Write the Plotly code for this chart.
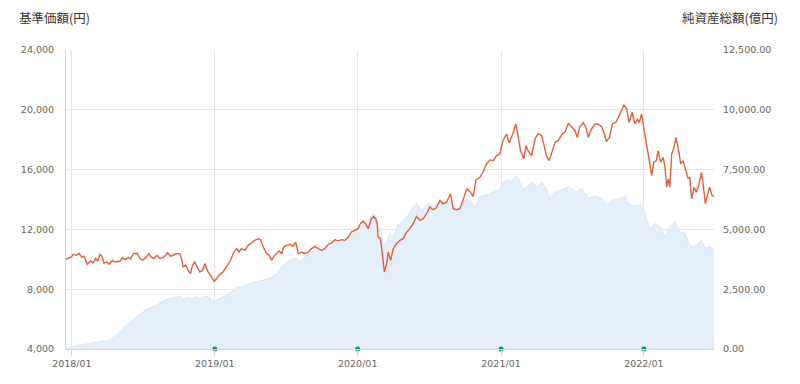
import plotly.graph_objects as go

# 基準価額 (円)
price_dates = [
 "2017-12-17","2017-12-31","2018-01-04","2018-01-13","2018-01-19","2018-01-26","2018-02-01","2018-02-09","2018-02-18","2018-02-24",
 "2018-03-03","2018-03-08","2018-03-14","2018-03-19","2018-03-24","2018-03-31","2018-04-06","2018-04-15","2018-04-21","2018-05-04",
 "2018-05-10","2018-05-17","2018-05-25","2018-05-31","2018-06-07","2018-06-17","2018-06-24","2018-07-01","2018-07-09","2018-07-17",
 "2018-07-24","2018-07-30","2018-08-07","2018-08-14","2018-08-21","2018-08-29","2018-09-02","2018-09-10","2018-09-17","2018-09-25",
 "2018-10-04","2018-10-08","2018-10-12","2018-10-19","2018-10-25","2018-10-31","2018-11-05","2018-11-11","2018-11-17","2018-11-24",
 "2018-12-01","2018-12-07","2018-12-11","2018-12-15","2018-12-24","2018-12-30","2019-01-06","2019-01-12","2019-01-22","2019-01-31",
 "2019-02-09","2019-02-19","2019-02-26","2019-03-04","2019-03-10","2019-03-19","2019-03-27","2019-04-05","2019-04-13","2019-04-22",
 "2019-04-28","2019-05-05","2019-05-13","2019-05-20","2019-05-26","2019-06-01","2019-06-08","2019-06-14","2019-06-21","2019-06-26",
 "2019-07-03","2019-07-12","2019-07-20","2019-07-27","2019-08-02","2019-08-11","2019-08-19","2019-08-28","2019-09-05","2019-09-14",
 "2019-09-22","2019-10-01","2019-10-09","2019-10-18","2019-10-26","2019-11-04","2019-11-12","2019-11-21","2019-11-29","2019-12-08",
 "2019-12-16","2019-12-25","2020-01-02","2020-01-08","2020-01-15","2020-01-22","2020-01-28","2020-02-05","2020-02-11","2020-02-16",
 "2020-02-20","2020-02-22","2020-02-28","2020-03-04","2020-03-09","2020-03-15","2020-03-19","2020-03-25","2020-04-01","2020-04-09",
 "2020-04-18","2020-04-26","2020-05-05","2020-05-13","2020-05-22","2020-05-30","2020-06-08","2020-06-16","2020-06-25","2020-07-03",
 "2020-07-12","2020-07-20","2020-07-29","2020-08-06","2020-08-15","2020-08-25","2020-09-01","2020-09-10","2020-09-18","2020-09-26",
 "2020-10-05","2020-10-13","2020-10-22","2020-10-29","2020-11-08","2020-11-16","2020-11-25","2020-12-04","2020-12-12","2020-12-21",
 "2020-12-29","2021-01-06","2021-01-15","2021-01-22","2021-01-31","2021-02-08","2021-02-14","2021-02-20","2021-02-28","2021-03-06",
 "2021-03-11","2021-03-20","2021-03-29","2021-04-06","2021-04-15","2021-04-20","2021-04-27","2021-05-04","2021-05-10","2021-05-19",
 "2021-05-27","2021-06-05","2021-06-13","2021-06-22","2021-06-30","2021-07-09","2021-07-15","2021-07-21","2021-07-30","2021-08-06",
 "2021-08-12","2021-08-20","2021-08-29","2021-09-06","2021-09-15","2021-09-21","2021-09-27","2021-10-05","2021-10-13","2021-10-21",
 "2021-10-30","2021-11-05","2021-11-11","2021-11-18","2021-11-24","2021-12-02","2021-12-09","2021-12-15","2021-12-20","2021-12-26",
 "2022-01-01","2022-01-06","2022-01-12","2022-01-16","2022-01-21","2022-01-26","2022-02-02","2022-02-06","2022-02-13","2022-02-19",
 "2022-02-24","2022-02-28","2022-03-04","2022-03-08","2022-03-13","2022-03-19","2022-03-24","2022-03-30","2022-04-05","2022-04-11",
 "2022-04-18","2022-04-24","2022-04-28","2022-05-03","2022-05-09","2022-05-15","2022-05-21","2022-05-28","2022-06-01","2022-06-07",
 "2022-06-13","2022-06-18","2022-06-24","2022-06-29",
]
price_values = [
 10000,10153,10333,10267,10400,10153,10200,9667,9887,9753,
 10067,9887,10333,10200,9753,9820,9667,9933,9820,9867,
 10113,9980,10113,10020,10380,10400,10047,9933,10113,10380,
 10113,10047,10267,10047,10113,10267,10447,10200,10287,10380,
 10380,10047,9487,9600,9267,9047,9600,9820,9487,9153,
 9267,9713,9380,9153,8820,8533,8713,8933,9153,9533,
 9867,10487,10713,10487,10713,10600,10933,11087,11267,11380,
 11313,10820,10380,10267,9933,10200,10380,10553,10380,10820,
 10933,11000,10867,11153,10380,10487,10380,10487,10713,10867,
 10713,10600,10713,11000,11087,11313,11220,11313,11267,11487,
 11820,11933,12047,12380,12553,12333,12047,12713,12867,12713,
 12400,11487,11380,10380,9153,9713,10487,9933,10713,11047,
 11267,11380,11820,12047,12380,12867,12600,12713,13047,13487,
 13313,13447,13933,13713,13820,14380,13380,13313,13380,13933,
 14713,14553,14200,15313,15487,15820,16380,16647,16600,16933,
 17047,17933,18380,17800,18380,19047,18153,17267,16713,17600,
 17267,16933,18047,18420,18267,17713,16933,16600,17047,17820,
 17933,18333,18487,19087,18867,18600,18153,18820,19153,18820,
 18153,18713,19047,19047,18867,18487,17867,18153,19087,19153,
 19600,19933,20333,20047,19153,19820,19047,19380,19153,19713,
 18820,17933,17153,16487,15600,16487,16600,17267,16487,16820,
 16153,14820,15380,14820,17047,17487,18153,17380,16380,16600,
 15933,15380,15487,14047,14820,14487,14933,15820,15047,13713,
 14380,14820,14267,14200,
]

# 純資産総額 (億円)
asset_dates = [
 "2017-12-17","2018-01-21","2018-02-24","2018-04-08","2018-04-21","2018-05-21","2018-06-15","2018-07-11","2018-08-05","2018-08-31",
 "2018-09-21","2018-10-04","2018-10-12","2018-10-25","2018-11-03","2018-11-15","2018-11-24","2018-12-07","2018-12-18","2018-12-28",
 "2019-01-10","2019-01-27","2019-02-09","2019-02-26","2019-03-15","2019-04-01","2019-04-26","2019-05-22","2019-06-08","2019-06-25",
 "2019-07-12","2019-07-29","2019-08-06","2019-08-19","2019-09-01","2019-09-18","2019-10-05","2019-10-22","2019-11-08","2019-11-25",
 "2019-12-12","2019-12-29","2020-01-15","2020-01-28","2020-02-10","2020-02-18","2020-02-22","2020-03-02","2020-03-06","2020-03-15",
 "2020-03-23","2020-04-01","2020-04-13","2020-04-26","2020-05-09","2020-05-22","2020-05-30","2020-06-12","2020-06-29","2020-07-12",
 "2020-07-29","2020-08-15","2020-08-28","2020-09-05","2020-09-18","2020-10-01","2020-10-13","2020-10-26","2020-11-08","2020-11-25",
 "2020-12-12","2020-12-29","2021-01-06","2021-01-15","2021-01-28","2021-02-10","2021-02-18","2021-02-27","2021-03-11","2021-03-24",
 "2021-04-02","2021-04-15","2021-04-23","2021-05-06","2021-05-19","2021-06-05","2021-06-22","2021-06-30","2021-07-13","2021-07-26",
 "2021-08-12","2021-08-29","2021-09-15","2021-09-27","2021-10-14","2021-11-01","2021-11-13","2021-11-22","2021-12-05","2021-12-17",
 "2021-12-26","2022-01-04","2022-01-16","2022-01-29","2022-02-11","2022-02-24","2022-03-08","2022-03-21","2022-04-03","2022-04-16",
 "2022-04-28","2022-05-11","2022-05-28","2022-06-06","2022-06-18","2022-06-29",
]
asset_values = [
 30,167,263,376,514,1003,1350,1660,1839,2078,
 2161,2216,2078,2161,2078,2186,2120,2216,2161,1977,
 2078,2216,2362,2579,2605,2747,2843,2956,3135,3512,
 3721,3792,3650,3859,4001,4139,4068,4277,4419,4486,
 4640,4975,5184,5393,5644,5531,5184,4975,4277,4486,
 4837,4695,5184,5393,5602,5949,6091,5811,6091,5949,
 6229,6091,6229,5740,5811,6229,6229,5949,6367,6438,
 6576,6689,6940,7065,7023,7253,6994,6647,6856,6994,
 6785,6952,6785,6300,6576,6647,6785,6718,6576,6718,
 6300,6396,6300,6020,6229,6300,6396,6091,5978,6020,
 6020,5673,4975,5255,5113,4695,5113,5322,4904,4837,
 4348,4277,4557,4210,4277,4139,
]

# 決算日マーカー
event_dates = ["2019-01-01", "2020-01-01", "2021-01-01", "2022-01-01"]
event_values = [4000, 4000, 4000, 4000]

price_ticks = [4000, 8000, 12000, 16000, 20000, 24000]
asset_ticks = [0, 2500, 5000, 7500, 10000, 12500]

tick_font = dict(family="DejaVu Sans", size=9.5, color="#666666")
axis_col = "#ccd6eb"
grid_col = "#e6e6e6"

fig = go.Figure()
fig.add_trace(go.Scatter(
    x=asset_dates, y=asset_values, yaxis="y", mode="lines",
    line=dict(color="rgba(200,222,243,0.6)", width=1),
    fill="tozeroy", fillcolor="#e5eff9", name="純資産総額", hoverinfo="x+y",
))
fig.add_trace(go.Scatter(
    x=price_dates, y=price_values, yaxis="y2", mode="lines",
    line=dict(color="#e0603a", width=1.4), name="基準価額",
))
fig.add_trace(go.Scatter(
    x=event_dates, y=event_values, yaxis="y2", mode="markers",
    marker=dict(color="#168c86", size=5, line=dict(width=0)), cliponaxis=False, name="決算",
))

# the page body adds an 8px offset, so margins are reduced on the left/top
fig.update_layout(
    width=800, height=384,
    margin=dict(l=58, r=94, t=42, b=43),
    paper_bgcolor="white", plot_bgcolor="white",
    showlegend=False,
    xaxis=dict(
        type="date", range=["2017-12-17", "2022-06-29"],
        tick0="2018-01-01", dtick="M12", tickformat="%Y/%m",
        showgrid=True, gridcolor=grid_col, gridwidth=1,
        showline=True, linecolor=axis_col, linewidth=1,
        ticks="outside", ticklen=6, tickcolor=axis_col,
        tickfont=tick_font, zeroline=False,
    ),
    yaxis=dict(
        side="right", range=[0, 12500], tickvals=asset_ticks,
        tickformat=",.2f", showgrid=True, gridcolor=grid_col,
        zeroline=False, showline=False, tickfont=tick_font, ticks="",
        ticklabelstandoff=8,
    ),
    yaxis2=dict(
        side="left", overlaying="y", range=[4000, 24000], tickvals=price_ticks,
        tickformat=",", showgrid=False, zeroline=False,
        showline=True, linecolor=axis_col, linewidth=1,
        tickfont=tick_font, ticks="", ticklabelstandoff=9,
    ),
    annotations=[
        dict(text="基準価額(円)", xref="paper", yref="paper", x=-0.076, y=1.11,
             xanchor="left", yanchor="middle", showarrow=False,
             font=dict(family="Noto Sans CJK JP", size=12.5, color="#333333")),
        dict(text="純資産総額(億円)", xref="paper", yref="paper", x=1.102, y=1.11,
             xanchor="right", yanchor="middle", showarrow=False,
             font=dict(family="Noto Sans CJK JP", size=12.5, color="#333333")),
    ],
)

fig.write_html("out.html")
